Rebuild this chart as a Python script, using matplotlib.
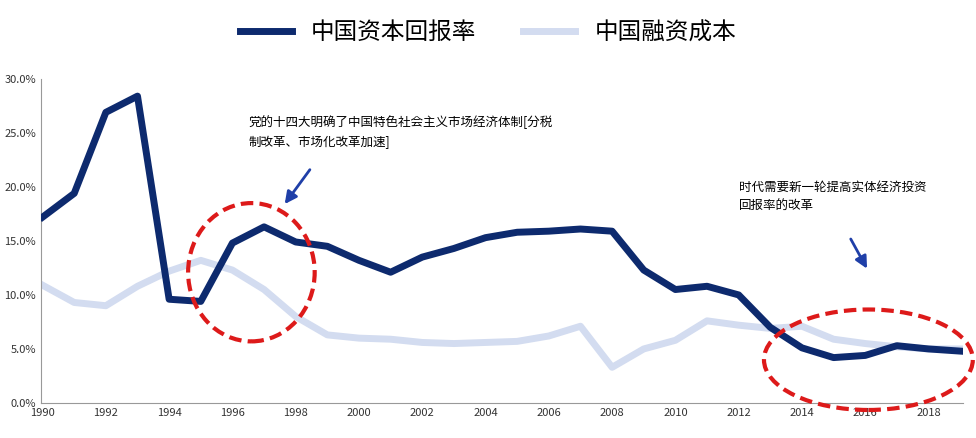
import matplotlib.pyplot as plt
from matplotlib.patches import Ellipse
from matplotlib.ticker import FuncFormatter

plt.rcParams['font.family'] = ['Noto Sans CJK SC', 'Noto Sans CJK JP', 'DejaVu Sans']

years = list(range(1990, 2020))
capital_return = [17.2, 19.4, 26.9, 28.4, 9.6, 9.4, 14.8, 16.3, 14.9, 14.5,
                  13.2, 12.1, 13.5, 14.3, 15.3, 15.8, 15.9, 16.1, 15.9, 12.3,
                  10.5, 10.8, 10.0, 7.0, 5.1, 4.2, 4.4, 5.3, 5.0, 4.8]
financing_cost = [10.9, 9.3, 9.0, 10.8, 12.2, 13.2, 12.3, 10.5, 8.0, 6.3,
                  6.0, 5.9, 5.6, 5.5, 5.6, 5.7, 6.2, 7.1, 3.3, 5.0,
                  5.8, 7.6, 7.2, 6.9, 7.1, 5.9, 5.5, 5.2, 5.0, 5.0]

fig = plt.figure(figsize=(9.76, 4.38), dpi=100)
ax = fig.add_axes([0.042, 0.08, 0.945, 0.74])

ax.plot(years, capital_return, color='#0d2a6e', lw=5, label='中国资本回报率', zorder=3)
ax.plot(years, financing_cost, color='#d3dcf0', lw=5, label='中国融资成本', zorder=2)

ax.set_xlim(1989.95, 2019.1)
ax.set_ylim(0, 30)
ax.set_xticks(range(1990, 2019, 2))
ax.set_yticks(range(0, 31, 5))
ax.yaxis.set_major_formatter(FuncFormatter(lambda v, p: f'{v:.1f}%'))
ax.tick_params(labelsize=8, length=0, colors='#333333')
for s in ['top', 'right']:
    ax.spines[s].set_visible(False)
ax.spines['left'].set_color('#999999')
ax.spines['bottom'].set_color('#999999')

fig.legend(loc='upper center', bbox_to_anchor=(0.5, 1.0), ncol=2, frameon=False,
           fontsize=17, handlelength=2.2, columnspacing=2)

ax.add_patch(Ellipse((1996.6, 12.1), 4.0, 12.8, fill=False, ec='#dd1a1a', lw=3,
                     ls=(0, (3, 1.5)), zorder=4, clip_on=False))
ax.add_patch(Ellipse((2016.1, 4.0), 6.6, 9.3, fill=False, ec='#dd1a1a', lw=3,
                     ls=(0, (3, 1.5)), zorder=4, clip_on=False))

ax.text(1996.5, 26.6, '党的十四大明确了中国特色社会主义市场经济体制[分税\n制改革、市场化改革加速]',
        fontsize=9, va='top', linespacing=1.6)
ax.text(2012.0, 20.6, '时代需要新一轮提高实体经济投资\n回报率的改革',
        fontsize=9, va='top', linespacing=1.6)
ax.annotate('', xy=(1997.6, 18.2), xytext=(1998.5, 21.8),
            arrowprops=dict(arrowstyle='-|>', color='#1f3fa8', lw=2, mutation_scale=18))
ax.annotate('', xy=(2016.1, 12.2), xytext=(2015.5, 15.4),
            arrowprops=dict(arrowstyle='-|>', color='#1f3fa8', lw=2, mutation_scale=18))

fig.savefig('out.png')
